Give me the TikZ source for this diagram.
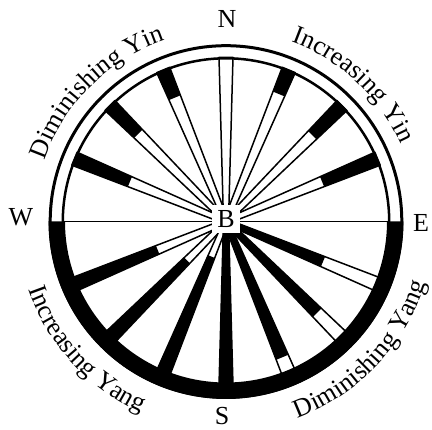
\documentclass[tikz,border=0pt]{standalone}
\usepackage{fontspec}
\setmainfont{Liberation Serif}
\usetikzlibrary{decorations.text}
\newcommand{\lblfont}{\fontsize{26}{30}\selectfont}
\tikzset{
  rayon/.style={fill=white,draw=black,line width=1.5pt,line join=round},
  plein/.style={fill=black},
  lettre/.style={font=\lblfont,inner sep=0pt},
  arclbl/.style={decorate,decoration={text along path,text align=center,
    text={|\lblfont|#1}}},
}
% one piece of a spoke: angle, from radius, to radius, style
\newcommand{\spokepart}[4]{%
  \pgfmathsetmacro{\wa}{2.5+4.5*#2/164}%
  \pgfmathsetmacro{\wb}{2.5+4.5*#3/164}%
  \path[#4,rotate=#1] (#2,\wa) -- (#3,\wb) -- (#3,-\wb) -- (#2,-\wa) -- cycle;
}

\begin{document}
\begin{tikzpicture}[x=1pt,y=1pt]
  \useasboundingbox (-226,-208.5) rectangle (206,221.5);
  \coordinate (c) at (0,0);
  % spokes
  \foreach \a in {22.5,45,...,157.5,202.5,225,...,337.5}
    {\spokepart{\a}{0}{164}{rayon}}
  \foreach \a/\ra/\rb in {22.5/104/164,45/122/164,67.5/138/164,112.5/134/164,
      135/124/164,157.5/104/164,202.5/74/164,225/55/164,247.5/38/164,
      270/0/164,292.5/0/147,315/0/129,337.5/0/105}
    {\spokepart{\a}{\ra}{\rb}{plein}}
  \draw[line width=1.4pt] (c) -- (0:164);
  \draw[line width=1.4pt] (c) -- (180:164);
  % rim
  \fill[plein] (180:177.5) arc[start angle=180,end angle=360,radius=177.5]
    -- (0:161) arc[start angle=0,end angle=-180,radius=161] -- cycle;
  \draw[line width=3pt] (c) circle[radius=175.8];
  \draw[line width=2.5pt] (c) circle[radius=163.2];
  \node[lettre,fill=white,minimum size=28pt] (hub) at (0,2.5) {B};
  \node[lettre] (n) at (1,202.5) {N};
  \node[lettre] (w) at (-205,4) {W};
  \node[lettre] (e) at (195,-1.5) {E};
  \node[lettre] (s) at (-4,-195) {S};
  \path[arclbl=Diminishing Yin] (180:191) arc[start angle=180,end angle=90,radius=191];
  \path[arclbl=Increasing Yin] (92:191) arc[start angle=92,end angle=2,radius=191];
  \path[arclbl=Increasing Yang] (177.5:209) arc[start angle=177.5,end angle=267.5,radius=209];
  \path[arclbl=Diminishing Yang] (271.5:209) arc[start angle=271.5,end angle=361.5,radius=209];
\end{tikzpicture}
\end{document}
